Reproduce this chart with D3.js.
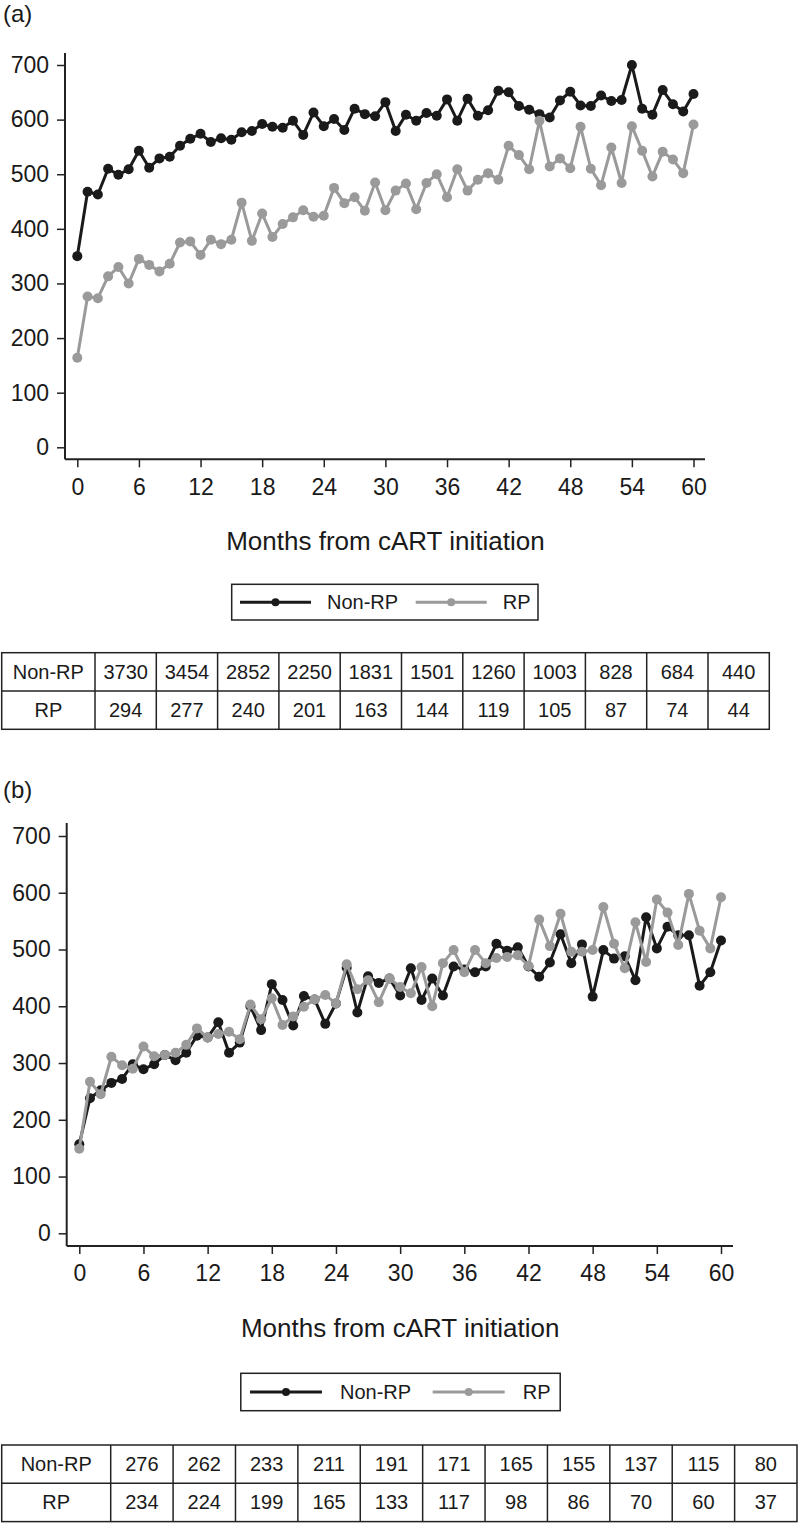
<!DOCTYPE html>
<html>
<head>
<meta charset="utf-8">
<script src="https://cdn.jsdelivr.net/npm/d3@7"></script>
<style>
  body { margin: 0; background: #fff; }
  svg text { font-family: "Liberation Sans", Arial, Helvetica, sans-serif; fill: #1a1a1a; }
</style>
</head>
<body>
<svg id="chart" width="800" height="1523"></svg>
<script>
// months 0..60
const months = d3.range(0, 61);
const xTicks = d3.range(0, 61, 6);
const yTicks = d3.range(0, 701, 100);
const seriesNames = ["Non-RP", "RP"];
const colors = ["#1a1a1a", "#9a9a9a"];

// panel (a)
const aNonRP = [350,468,463,510,499,509,543,512,529,532,
    552,565,574,559,566,563,577,579,592,587,
    585,598,572,613,588,601,581,620,610,606,
    632,579,609,598,612,607,637,598,638,607,
    617,653,650,625,618,610,604,635,651,626,
    625,644,634,636,700,620,609,654,628,615,647];
const aRP = [164,276,273,313,330,300,345,334,322,336,
    375,377,352,380,372,380,448,378,428,385,
    409,421,434,422,424,475,447,458,433,485,
    434,470,483,436,484,500,458,509,470,490,
    502,490,552,535,509,598,514,529,511,587,
    510,480,549,484,588,543,496,541,527,502,591];
const aTableNonRP = [3730,3454,2852,2250,1831,1501,1260,1003,828,684,440];
const aTableRP = [294,277,240,201,163,144,119,105,87,74,44];

// panel (b)
const bNonRP = [157,238,252,265,272,298,289,298,314,305,
    318,348,345,372,318,336,400,358,439,411,
    366,418,412,369,405,468,389,453,441,449,
    419,467,411,449,419,470,465,460,470,510,
    498,504,470,452,477,527,476,509,417,499,
    484,488,446,557,502,540,525,525,436,460,516];
const bRP = [149,267,245,311,296,290,329,312,314,318,
    332,361,345,351,355,342,403,377,414,367,
    382,399,412,420,405,474,430,446,407,449,
    434,423,469,400,476,499,460,499,476,485,
    487,490,471,553,506,563,496,496,499,575,
    510,467,548,478,588,565,508,598,533,502,592];
const bTableNonRP = [276,262,233,211,191,171,165,155,137,115,80];
const bTableRP = [234,224,199,165,133,117,98,86,70,60,37];

const svg = d3.select("#chart");

function drawPanel(cfg) {
    const g = svg.append("g");

    const x = d3.scaleLinear().domain([0, 60]).range(cfg.xRange);
    const y = d3.scaleLinear().domain([0, 700]).range(cfg.yRange);

    // panel letter
    g.append("text")
        .attr("x", 3).attr("y", cfg.letterY)
        .style("font-size", "24px")
        .text(cfg.letter);

    // y axis
    const yAxis = g.append("g")
        .attr("transform", `translate(${cfg.axisLeft},0)`)
        .call(d3.axisLeft(y).tickValues(yTicks).tickSize(8).tickPadding(8).tickSizeOuter(0));
    yAxis.select(".domain").remove();
    yAxis.selectAll("line").attr("stroke", "#222").attr("stroke-width", 1.5);
    yAxis.selectAll("text").style("font-size", "23px").attr("fill", "#1a1a1a");
    g.append("line")
        .attr("x1", cfg.axisLeft).attr("x2", cfg.axisLeft)
        .attr("y1", cfg.yTop).attr("y2", cfg.axisBottom)
        .attr("stroke", "#222").attr("stroke-width", 2);

    // x axis
    const xAxis = g.append("g")
        .attr("transform", `translate(0,${cfg.axisBottom})`)
        .call(d3.axisBottom(x).tickValues(xTicks).tickSize(8).tickPadding(11).tickSizeOuter(0));
    xAxis.select(".domain").remove();
    xAxis.selectAll("line").attr("stroke", "#222").attr("stroke-width", 1.5);
    xAxis.selectAll("text").style("font-size", "23px").attr("fill", "#1a1a1a");
    g.append("line")
        .attr("x1", cfg.axisLeft).attr("x2", cfg.xRight)
        .attr("y1", cfg.axisBottom).attr("y2", cfg.axisBottom)
        .attr("stroke", "#222").attr("stroke-width", 2);

    g.append("text")
        .attr("x", (cfg.xRange[0] + cfg.xRange[1]) / 2)
        .attr("y", cfg.axisBottom + 91)
        .attr("text-anchor", "middle")
        .style("font-size", "26px")
        .text("Months from cART initiation");

    // series
    const line = d3.line().x((d, i) => x(months[i])).y(d => y(d));
    cfg.series.forEach((vals, k) => {
        g.append("path")
            .datum(vals)
            .attr("fill", "none")
            .attr("stroke", colors[k])
            .attr("stroke-width", 3)
            .attr("stroke-linejoin", "round")
            .attr("d", line);
        g.append("g").selectAll("circle")
            .data(vals)
            .join("circle")
            .attr("cx", (d, i) => x(months[i]))
            .attr("cy", d => y(d))
            .attr("r", 5)
            .attr("fill", colors[k]);
    });

    // legend
    const lg = cfg.legend;
    g.append("rect")
        .attr("x", lg.x).attr("y", lg.y)
        .attr("width", lg.w).attr("height", lg.h)
        .attr("fill", "none").attr("stroke", "#222").attr("stroke-width", 1.5);
    const cy = lg.y + lg.h / 2;
    seriesNames.forEach((name, k) => {
        const x0 = lg.items[k];
        g.append("line")
            .attr("x1", x0).attr("x2", x0 + lg.lineW)
            .attr("y1", cy).attr("y2", cy)
            .attr("stroke", colors[k]).attr("stroke-width", 3);
        g.append("circle")
            .attr("cx", x0 + lg.lineW / 2).attr("cy", cy)
            .attr("r", 4).attr("fill", colors[k]);
        g.append("text")
            .attr("x", x0 + lg.lineW + lg.gap).attr("y", cy + 7)
            .style("font-size", "20px")
            .text(name);
    });

    // numbers-at-risk table
    const tb = cfg.table;
    const nCols = tb.rows[0].length;
    const cellW = (tb.right - tb.left - tb.firstW) / nCols;
    const edges = [tb.left, ...d3.range(nCols + 1).map(i => tb.left + tb.firstW + i * cellW)];
    const tg = g.append("g");
    tg.append("rect")
        .attr("x", tb.left).attr("y", tb.top)
        .attr("width", tb.right - tb.left).attr("height", tb.rowH * 2)
        .attr("fill", "none").attr("stroke", "#222").attr("stroke-width", 1.5);
    tg.append("line")
        .attr("x1", tb.left).attr("x2", tb.right)
        .attr("y1", tb.top + tb.rowH).attr("y2", tb.top + tb.rowH)
        .attr("stroke", "#222").attr("stroke-width", 1.5);
    edges.slice(1, -1).forEach(ex => {
        tg.append("line")
            .attr("x1", ex).attr("x2", ex)
            .attr("y1", tb.top).attr("y2", tb.top + tb.rowH * 2)
            .attr("stroke", "#222").attr("stroke-width", 1.5);
    });
    tb.rows.forEach((row, r) => {
        const ty = tb.top + tb.rowH * r + tb.rowH / 2 + 7;
        tg.append("text")
            .attr("x", (edges[0] + edges[1]) / 2).attr("y", ty)
            .attr("text-anchor", "middle")
            .style("font-size", "20px")
            .text(seriesNames[r]);
        row.forEach((v, c) => {
            tg.append("text")
                .attr("x", (edges[c + 1] + edges[c + 2]) / 2).attr("y", ty)
                .attr("text-anchor", "middle")
                .style("font-size", "20px")
                .text(v);
        });
    });
}

drawPanel({
    letter: "(a)", letterY: 22,
    xRange: [77.3, 693.5], yRange: [447.3, 65],
    axisLeft: 65, axisBottom: 459.3, yTop: 53, xRight: 705,
    series: [aNonRP, aRP],
    legend: { x: 231.7, y: 584.3, w: 306.3, h: 35.7, items: [240, 415.7], lineW: 71, gap: 16 },
    table: { left: 1.7, right: 769.3, firstW: 93.3, top: 652.7, rowH: 38.3, rows: [aTableNonRP, aTableRP] }
});

drawPanel({
    letter: "(b)", letterY: 798,
    xRange: [79.3, 721], yRange: [1233.3, 836],
    axisLeft: 66.7, axisBottom: 1246, yTop: 823, xRight: 733,
    series: [bNonRP, bRP],
    legend: { x: 240.8, y: 1373.3, w: 319.4, h: 37.4, items: [250, 432.7], lineW: 72, gap: 18 },
    table: { left: 1.7, right: 797, firstW: 109, top: 1445, rowH: 38.3, rows: [bTableNonRP, bTableRP] }
});
</script>
</body>
</html>
